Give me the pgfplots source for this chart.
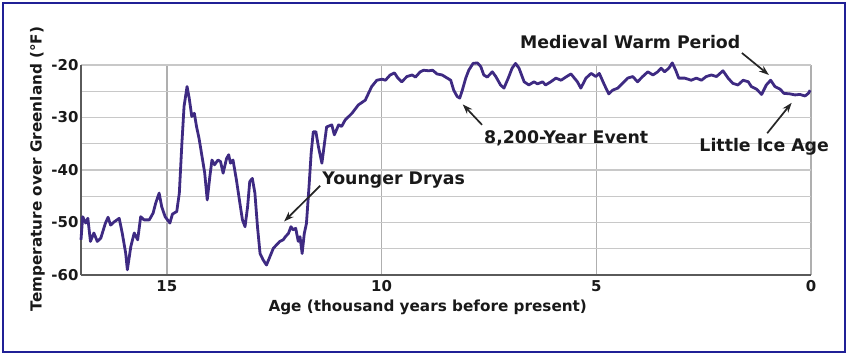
\documentclass[border=0pt]{standalone}
\usepackage{pgfplots}
\pgfplotsset{compat=1.18}
\usepackage{fontspec}
\setmainfont{DejaVu Sans}
\usetikzlibrary{arrows.meta}
\definecolor{curve}{RGB}{62,42,130}
\definecolor{frame}{RGB}{32,32,150}
\definecolor{gridc}{RGB}{200,200,200}
\definecolor{vgridc}{RGB}{175,175,175}
\definecolor{axisc}{RGB}{90,90,90}
\begin{document}
\begin{tikzpicture}
\begin{axis}[
  scale only axis, width=730bp, height=210bp,
  xmin=0, xmax=17, ymin=-60, ymax=-20,
  x dir=reverse, clip=false,
  axis x line*=bottom, axis y line*=left,
  axis line style={axisc, line width=1.6bp},
  xtick={0,5,10,15}, xticklabels={0,5,10,15},
  ytick={-60,-50,-40,-30,-20}, yticklabels={-60,-50,-40,-30,-20},
  minor ytick={-55,-45,-35,-25},
  major tick length=0pt, minor tick length=0pt,
  xmajorgrids, ymajorgrids, yminorgrids,
  major grid style={gridc, line width=1.4bp},
  minor grid style={gridc, line width=1.4bp},
  x grid style={vgridc, line width=1.4bp},
  tick label style={font=\fontsize{15}{18}\selectfont\bfseries, text=black!90},
  xticklabel style={yshift=-2bp},
  yticklabel style={xshift=1bp},
  xlabel={Age (thousand years before present)},
  ylabel={Temperature over Greenland (°F)},
  label style={font=\fontsize{15.3}{18}\selectfont\bfseries, text=black!90},
  xlabel style={at={(axis description cs:0.475,-0.152)}, anchor=center},
  ylabel style={at={(axis description cs:-0.0596,0.505)}, anchor=center},
]
\coordinate (SW) at (axis description cs:0,0);
\coordinate (NE) at (axis description cs:1,1);
\addplot[curve, line width=2.8bp, line join=round] table {
17.00 -53.3
16.96 -48.9
16.89 -50.1
16.84 -49.2
16.78 -53.6
16.70 -52.0
16.62 -53.6
16.54 -53.0
16.43 -50.1
16.37 -49.0
16.31 -50.5
16.23 -49.9
16.11 -49.2
16.04 -52.0
15.96 -55.8
15.92 -59.0
15.84 -54.6
15.76 -52.0
15.68 -53.3
15.61 -48.9
15.53 -49.5
15.41 -49.5
15.32 -48.2
15.26 -46.3
15.18 -44.4
15.12 -47.0
15.04 -48.9
14.93 -50.1
14.87 -48.4
14.77 -47.9
14.71 -44.4
14.65 -34.9
14.60 -27.9
14.53 -24.1
14.48 -26.3
14.42 -29.8
14.36 -29.2
14.31 -31.7
14.25 -34.0
14.20 -36.5
14.12 -40.5
14.06 -45.7
14.00 -41.3
13.95 -38.1
13.89 -39.0
13.81 -38.1
13.75 -38.4
13.69 -40.6
13.61 -37.8
13.56 -37.1
13.52 -38.7
13.46 -38.1
13.38 -41.9
13.30 -46.3
13.24 -49.5
13.18 -50.8
13.12 -47.0
13.07 -42.2
13.01 -41.6
12.95 -44.4
12.89 -50.8
12.83 -55.9
12.76 -57.1
12.68 -58.1
12.60 -56.5
12.52 -54.9
12.45 -54.3
12.37 -53.6
12.29 -53.3
12.24 -52.7
12.17 -52.1
12.11 -50.8
12.06 -51.4
12.00 -51.1
11.94 -53.6
11.90 -52.7
11.85 -55.9
11.80 -52.1
11.75 -50.2
11.69 -43.2
11.64 -36.8
11.59 -32.7
11.53 -32.7
11.47 -35.6
11.39 -38.7
11.28 -31.8
11.16 -31.4
11.10 -33.3
11.00 -31.4
10.93 -31.7
10.85 -30.5
10.69 -29.2
10.54 -27.6
10.38 -26.7
10.23 -24.1
10.11 -22.9
9.99 -22.7
9.91 -22.9
9.80 -21.9
9.70 -21.5
9.62 -22.5
9.53 -23.2
9.41 -22.2
9.29 -21.9
9.21 -22.3
9.10 -21.3
9.02 -21.0
8.90 -21.1
8.81 -21.0
8.71 -21.7
8.59 -21.9
8.47 -22.5
8.39 -22.9
8.32 -24.8
8.24 -26.0
8.18 -26.3
8.12 -24.8
8.04 -22.5
7.97 -21.0
7.87 -19.7
7.77 -19.6
7.69 -20.3
7.62 -21.9
7.54 -22.3
7.42 -21.3
7.34 -22.2
7.23 -23.8
7.15 -24.4
7.05 -22.5
6.96 -20.6
6.88 -19.7
6.80 -20.6
6.68 -23.2
6.57 -23.8
6.45 -23.2
6.37 -23.6
6.25 -23.2
6.18 -23.8
6.06 -23.2
5.94 -22.5
5.82 -22.9
5.71 -22.3
5.59 -21.7
5.51 -22.5
5.44 -23.2
5.36 -24.4
5.24 -22.5
5.12 -21.6
5.01 -22.2
4.93 -21.6
4.81 -23.8
4.71 -25.5
4.62 -24.8
4.50 -24.4
4.39 -23.5
4.27 -22.5
4.15 -22.2
4.04 -23.2
3.92 -22.2
3.80 -21.3
3.68 -21.9
3.57 -21.3
3.49 -20.6
3.41 -21.3
3.31 -20.6
3.23 -19.6
3.15 -21.0
3.08 -22.5
2.94 -22.5
2.79 -22.9
2.67 -22.5
2.55 -22.9
2.44 -22.2
2.32 -21.9
2.20 -22.2
2.05 -21.1
1.93 -22.5
1.82 -23.5
1.70 -23.8
1.58 -22.9
1.46 -23.2
1.39 -24.1
1.27 -24.6
1.15 -25.6
1.04 -23.8
0.94 -22.9
0.84 -24.1
0.72 -24.6
0.63 -25.4
0.49 -25.5
0.37 -25.7
0.26 -25.6
0.14 -25.9
0.06 -25.4
0.02 -24.8
};
\begin{scope}[font=\fontsize{17.4}{20}\selectfont\bfseries, text=black!90]
\node at (axis cs:4.21,-15.56) {Medieval Warm Period};
\node at (axis cs:5.70,-33.96) {8,200-Year Event};
\node at (axis cs:9.72,-41.9) {Younger Dryas};
\node at (axis cs:1.09,-35.6) {Little Ice Age};
\end{scope}
\draw[black!85, line width=1.7bp, -{Stealth[length=10bp,width=7bp]}] (axis cs:1.61,-17.7) -- (axis cs:0.98,-21.9);
\draw[black!85, line width=1.7bp, -{Stealth[length=10bp,width=7bp]}] (axis cs:7.66,-31.4) -- (axis cs:8.11,-27.5);
\draw[black!85, line width=1.7bp, -{Stealth[length=10bp,width=7bp]}] (axis cs:11.43,-43.0) -- (axis cs:12.27,-49.8);
\draw[black!85, line width=1.7bp, -{Stealth[length=10bp,width=7bp]}] (axis cs:1.02,-33.0) -- (axis cs:0.45,-27.2);
\end{axis}
\path[use as bounding box] ([shift={(-81bp,-80bp)}]SW) rectangle ([shift={(39bp,65bp)}]NE);
\draw[frame, line width=2bp] ([shift={(-78.3bp,-76.7bp)}]SW) rectangle ([shift={(34bp,62.3bp)}]NE);
\end{tikzpicture}
\end{document}
